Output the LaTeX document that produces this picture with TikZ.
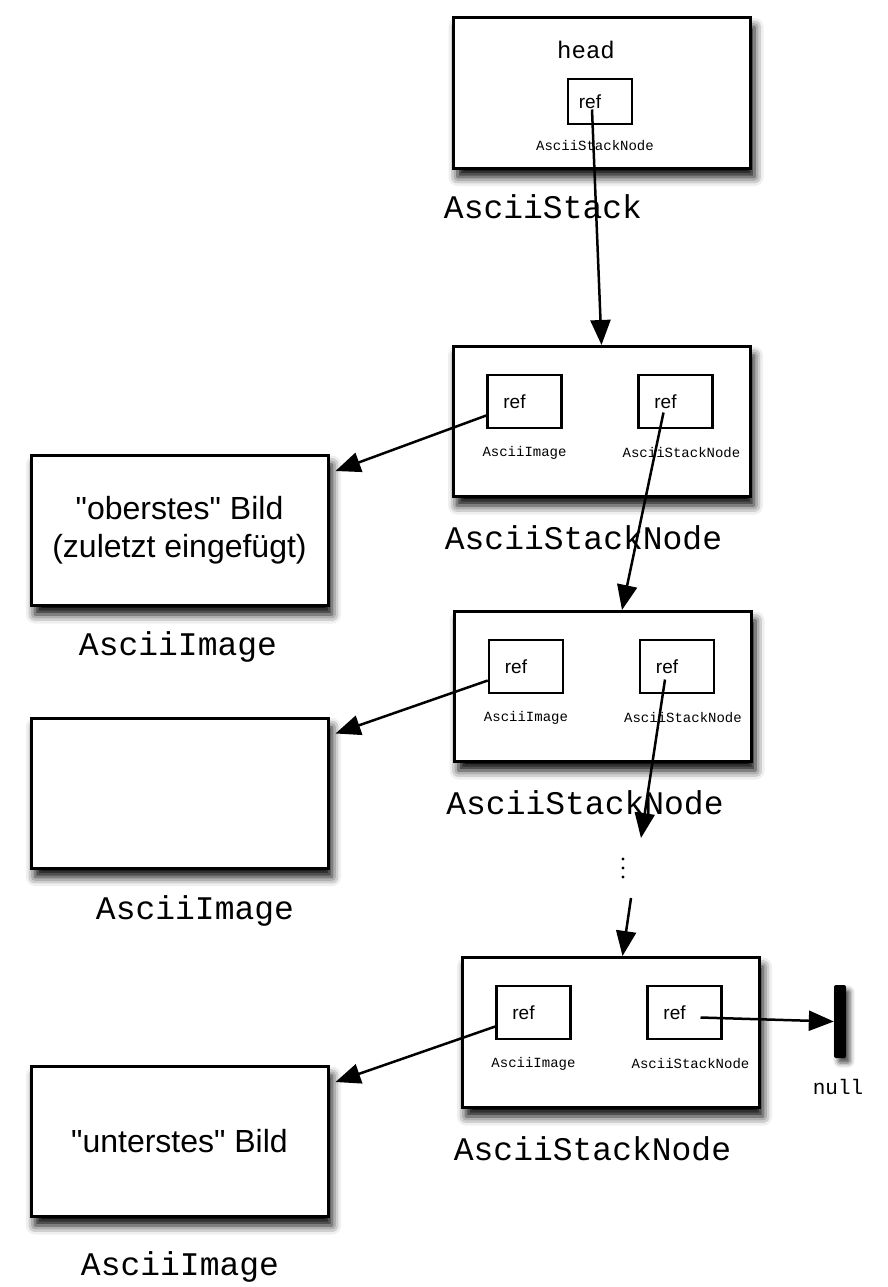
\documentclass[tikz,border=0pt]{standalone}
\usepackage{fontspec}
\setmainfont{Liberation Sans}
\setmonofont{Liberation Mono}
\usetikzlibrary{arrows.meta,shadows.blur}

\tikzset{
  box/.style={draw, line width=3pt, fill=white, minimum width=297pt, minimum height=150pt,
    align=center, font=\fontsize{32}{38}\selectfont,
    blur shadow={shadow xshift=4pt, shadow yshift=-9pt, shadow blur radius=9pt, shadow opacity=100}},
  refbox/.style={draw, line width=2.5pt, fill=white, minimum width=74pt, minimum height=53pt,
    label={[font=\fontsize{19}{22}\selectfont, xshift=-10pt]center:ref}},
  typ/.style={font=\ttfamily\fontsize{14}{16}\selectfont},
  cls/.style={font=\ttfamily\fontsize{33}{36}\selectfont},
  ptr/.style={line width=2.5pt, -{Triangle[length=25pt,width=20pt]}},
}

\begin{document}
\begin{tikzpicture}[x=1pt,y=-1pt]
  \useasboundingbox (0,0) rectangle (887,1287);

  % stack
  \node[box] (top) at (602,93) {};
  \node[font=\ttfamily\fontsize{24}{28}\selectfont] (head) at (586,50) {head};
  \node[refbox, minimum width=64pt, minimum height=45pt] (top-ref) at (600,101.5) {};
  \node[typ] at (595,146) {AsciiStackNode};
  \node[cls] at (543,207) {AsciiStack};

  % stack nodes
  \foreach \n/\x/\y in {n1/601.5/421.5, n2/603/686.5, n3/610.5/1032.5} {
    \node[box] (\n) at (\x,\y) {};
    \node[refbox] (\n-img) at (\x-77,\y-20) {};
    \node[refbox] (\n-nxt) at (\x+74,\y-20) {};
    \node[typ] at (\x-77,\y+31) {AsciiImage};
    \node[typ] at (\x+80,\y+31) {AsciiStackNode};
    \node[cls] at (\x-18,\y+116) {AsciiStackNode};
  }

  % images
  \foreach \n/\y/\lx/\ly/\txt in {i1/530.5/178/647/{\textquotedbl oberstes\textquotedbl{} Bild\\(zuletzt eingefügt)},
                                 i2/793/195/911/{},
                                 i3/1141.5/180/1267/{\textquotedbl unterstes\textquotedbl{} Bild}} {
    \node[box] (\n) at (179.5,\y) {\txt};
    \node[cls] at (\lx,\ly) {AsciiImage};
  }

  \node[fill=black, rounded corners=2pt, inner sep=0pt, minimum width=12pt, minimum height=73pt,
    blur shadow={shadow xshift=4pt, shadow yshift=-5pt, shadow blur radius=5pt, shadow opacity=70}] (nul) at (840,1021.5) {};
  \node[font=\ttfamily\fontsize{21}{24}\selectfont] at (838,1087) {null};

  \foreach \d in {859,868,877}
    \fill (623,\d) circle (1.6);
  \coordinate (d1) at (641,838);
  \coordinate (d2) at (631,898);

  % pointers
  \draw[ptr] ([xshift=-8pt,yshift=-8pt]top-ref.center) -- (n1.north);
  \foreach \n/\i in {n1/i1, n2/i2, n3/i3}
    \draw[ptr] ([yshift=-14pt]\n-img.west) -- ([xshift=6pt,yshift=-17pt]\i.north east);
  \draw[ptr] ([xshift=-12pt,yshift=-11pt]n1-nxt.center) -- ([xshift=19pt]n2.north);
  \draw[ptr] ([xshift=-12pt,yshift=-13pt]n2-nxt.center) -- (d1);
  \draw[ptr] (d2) -- ([xshift=12pt]n3.north);
  \draw[ptr] ([xshift=16pt,yshift=-5pt]n3-nxt.center) -- (nul.west);
\end{tikzpicture}
\end{document}
